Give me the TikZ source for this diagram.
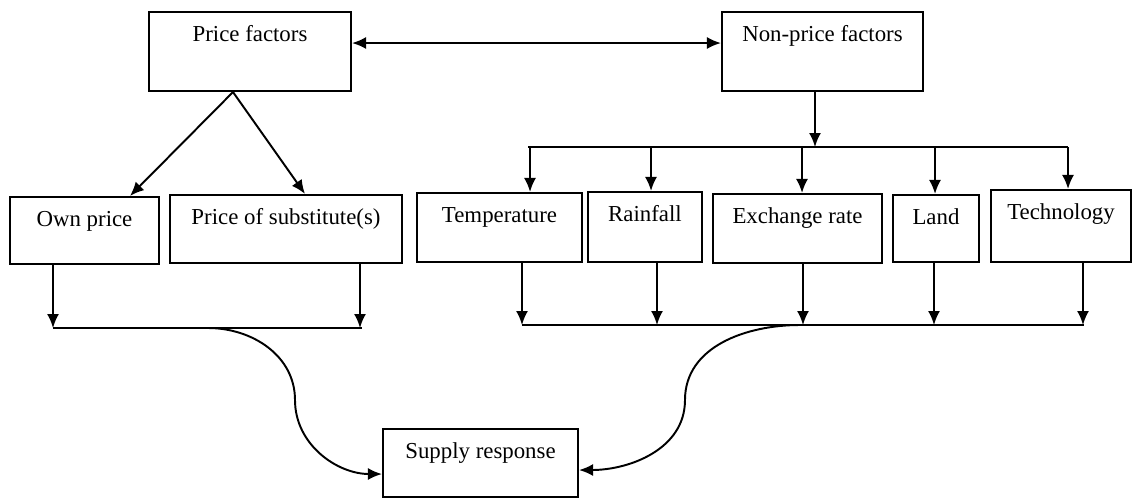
\documentclass[tikz,border=0pt]{standalone}
\usepackage{fontspec}
\setmainfont{Liberation Serif}
\usetikzlibrary{arrows.meta,calc}

\begin{document}
\begin{tikzpicture}[x=0.02cm, y=-0.02cm, font=\fontsize{13}{15}\selectfont, >={Latex[length=2.8mm,width=2.4mm]}, line width=1.1pt]
    \tikzset{block/.style 2 args={rectangle, draw, line width=1.2pt, inner sep=0pt, minimum width=#1, minimum height=#2},
             boxtext/.style={anchor=base, yshift=-0.62cm}}
    \useasboundingbox (0,0) rectangle (1134,498);
    % top row
    \node[block={4.04cm}{1.58cm}, label={[boxtext]north:Price factors}] (price) at (250,51.5) {};
    \node[block={4.02cm}{1.58cm}, label={[boxtext]north:Non-price factors}] (nonprice) at (822.5,51.5) {};
    % middle row
    \node[block={2.98cm}{1.34cm}, label={[boxtext]north:Own price}] (own) at (84.5,230.5) {};
    \node[block={4.64cm}{1.36cm}, label={[boxtext]north:Price of substitute(s)}] (subst) at (286,229) {};
    \node[block={3.30cm}{1.38cm}, label={[boxtext]north:Temperature}] (temp) at (499.5,227.5) {};
    \node[block={2.28cm}{1.40cm}, label={[boxtext]north:Rainfall}] (rain) at (645,227) {};
    \node[block={3.38cm}{1.38cm}, label={[boxtext]north:Exchange rate}] (exch) at (797.5,228.5) {};
    \node[block={1.72cm}{1.34cm}, label={[boxtext]north:Land}] (land) at (936,228.5) {};
    \node[block={2.80cm}{1.44cm}, label={[boxtext]north:Technology}] (tech) at (1061,226) {};
    % bottom
    \node[block={3.90cm}{1.36cm}, label={[boxtext]north:Supply response}] (supply) at (480.5,463) {};

    \draw[<->] ([yshift=0.17cm]price.east) -- ([yshift=0.17cm]nonprice.west);

    \coordinate (apex) at ($(price.south)+(-17,0)$);
    \draw[->] (apex) -- ($(own.north)+(45.5,0)$);
    \draw[->] (apex) -- ($(subst.north)+(19,0)$);

    \coordinate (nbar) at (815,147);
    \draw[->] (nonprice.south -| nbar) -- (nbar);
    \draw (nbar -| 528,0) -- (nbar -| 1068,0);
    \foreach \n/\x in {temp/530, rain/651, exch/802, land/935, tech/1068}
        \draw[->] (nbar -| \x,0) -- (\n.north -| \x,0);

    \coordinate (lbar) at (208,328);
    \draw (lbar -| 53,0) -- (lbar -| 362,0);
    \foreach \n/\x in {own/53, subst/360}
        \draw[->] (\n.south -| \x,0) -- (lbar -| \x,0);

    \coordinate (rbar) at (800,325);
    \draw (rbar -| 522,0) -- (rbar -| 1084,0);
    \foreach \n/\x in {temp/522, rain/657, exch/803, land/934, tech/1083}
        \draw[->] (\n.south -| \x,0) -- (rbar -| \x,0);

    \coordinate (lmid) at (295,400);
    \coordinate (rmid) at (685,400);
    \draw[->] (lbar) to[out=0,in=90] (lmid) to[out=-90,in=180] ($(supply.west)+(0,11)$);
    \draw[->] (rbar) to[out=180,in=90] (rmid) to[out=-90,in=0] ($(supply.east)+(0,7)$);
\end{tikzpicture}
\end{document}
